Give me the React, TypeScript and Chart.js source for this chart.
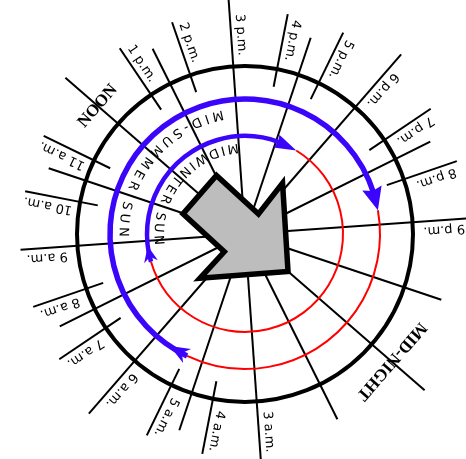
import React, { useEffect, useRef } from 'react';
import { Chart, registerables } from 'chart.js';

Chart.register(...registerables);

const CANVAS_W = 466;
const CANVAS_H = 459;

// ---------------- data ----------------
const LONG_LINE_HOURS = [12, 15, 18, 21, 24, 3, 6, 9];
const HALF_LINE_HOURS = [13.5, 16.5, 19.5, 22.5, 1.5, 4.5, 7.5, 10.5];
const TICK_HOURS = [13, 14, 16, 17, 19, 20, 4, 5, 7, 8, 10, 11];
const PM_HOURS = [13, 14, 15, 16, 17, 18, 19, 20, 21];
const PM_LABELS = ['1 p.m.', '2 p.m.', '3 p.m.', '4 p.m.', '5 p.m.', '6 p.m.', '7 p.m.', '8 p.m.', '9 p.m.'];
const AM_HOURS = [3, 4, 5, 6, 7, 8, 9, 10, 11];
const AM_LABELS = ['3 a.m.', '4 a.m.', '5 a.m.', '6 a.m.', '7 a.m.', '8 a.m.', '9 a.m.', '10 a.m.', '11 a.m.'];
const MAIN_HOURS = [12, 24];
const MAIN_LABELS = ['NOON', 'MID-NIGHT'];
const SUN_NAMES = ['MID-SUMMER SUN', 'MIDWINTER SUN'];
const SUNRISE_HOURS = [4.96, 8.17];
const SUNSET_HOURS = [20.59, 17.37];
const SUN_TEXT_FROM_HOURS = [14.41, 14.73];
const SUN_TEXT_TO_HOURS = [9.33, 9.0];
const GNOMON_HOUR = 24;

// ---------------- geometry / style ----------------
const DIAL = { noonDeg: 139, degPerHour: 15, xMin: -245, xMax: 221, yMin: -225, yMax: 234 };
const RAD = {
  dial: 168,
  long: 238,
  longShort: 225,
  half: 207,
  tickIn: 150,
  tickOut: 224,
  label: 199,
  labelGap: 9.5,
  cardinal: [195, 194],
  sun: [135, 98],
  sunText: [122, 87],
};
const SHORTER_LONG_HOURS = [9];
const BLUE = '#3a05fa';
const RED = '#ff0000';
const SUN_WIDTH = [5.5, 4.5];
const LABEL_FONT = '13px "DejaVu Sans", sans-serif';
const SUN_FONT = '13px "DejaVu Sans", sans-serif';
const CARDINAL_FONT = 'bold 17px "Liberation Serif", "Times New Roman", serif';
const END_HEAD = [
  { len: 23, half: 10, notch: 3 },
  { len: 22, half: 7, notch: 2 },
];
const START_HEAD = [
  { len: 20, half: 8, notch: 6 },
  { len: 16, half: 7, notch: 5 },
];
// gnomon outline in (along, across) units relative to the dial centre
const GNOMON_SHAPE: [number, number][] = [
  [-60, 25.5], [-60, -25.5], [-3, -24], [-5, -63], [57, 0], [-5, 63], [-4, 27],
];

const hourToDeg = (h: number) => DIAL.noonDeg - DIAL.degPerHour * (h - 12);
const polar = (r: number, deg: number) => {
  const a = (deg * Math.PI) / 180;
  return { x: r * Math.cos(a), y: r * Math.sin(a) };
};

function lineDataset(h: number, r0: number, r1: number) {
  const d = hourToDeg(h);
  return {
    data: [polar(r0, d), polar(r1, d)],
    showLine: true,
    borderColor: '#000',
    borderWidth: 2,
    pointRadius: 0,
    borderCapStyle: 'butt' as const,
  };
}

const dialPlugin = {
  id: 'dialPlugin',
  afterDatasetsDraw(chart: any) {
    const ctx: CanvasRenderingContext2D = chart.ctx;
    const xs = chart.scales.x;
    const ys = chart.scales.y;
    const P = (r: number, deg: number): [number, number] => {
      const p = polar(r, deg);
      return [xs.getPixelForValue(p.x), ys.getPixelForValue(p.y)];
    };
    const [cx, cy] = P(0, 0);
    const k = xs.getPixelForValue(1) - xs.getPixelForValue(0);
    const rad = (deg: number) => (deg * Math.PI) / 180;

    ctx.save();

    // main dial circle
    ctx.beginPath();
    ctx.arc(cx, cy, RAD.dial * k, 0, Math.PI * 2);
    ctx.strokeStyle = '#000';
    ctx.lineWidth = 4;
    ctx.stroke();

    const drawHead = (r: number, tipDeg: number, len: number, half: number, notch: number) => {
      const tip = P(r, tipDeg);
      const baseDeg = tipDeg + ((len / (r * k)) * 180) / Math.PI;
      const base = P(r, baseDeg);
      let ax = tip[0] - base[0];
      let ay = tip[1] - base[1];
      const l = Math.hypot(ax, ay) || 1;
      ax /= l;
      ay /= l;
      const px = -ay;
      const py = ax;
      ctx.beginPath();
      ctx.moveTo(tip[0], tip[1]);
      ctx.lineTo(base[0] + px * half, base[1] + py * half);
      ctx.lineTo(base[0] + ax * notch, base[1] + ay * notch);
      ctx.lineTo(base[0] - px * half, base[1] - py * half);
      ctx.closePath();
      ctx.fillStyle = BLUE;
      ctx.fill();
    };

    // sun paths
    for (let i = 0; i < SUN_NAMES.length; i++) {
      const r = RAD.sun[i];
      const rise = hourToDeg(SUNRISE_HOURS[i]);
      const set = hourToDeg(SUNSET_HOURS[i]);
      // night (red)
      ctx.beginPath();
      ctx.arc(cx, cy, r * k, -rad(set), -rad(rise), false);
      ctx.strokeStyle = RED;
      ctx.lineWidth = 2;
      ctx.lineCap = 'butt';
      ctx.stroke();
      // day (blue)
      const endBase = set + ((END_HEAD[i].len / (r * k)) * 180) / Math.PI;
      ctx.beginPath();
      ctx.arc(cx, cy, r * k, -rad(rise), -rad(endBase - 2), false);
      ctx.strokeStyle = BLUE;
      ctx.lineWidth = SUN_WIDTH[i];
      ctx.stroke();
      // arrow heads
      drawHead(r, set, END_HEAD[i].len, END_HEAD[i].half, END_HEAD[i].notch);
      const startTip = rise - ((START_HEAD[i].len / (r * k)) * 180) / Math.PI;
      drawHead(r, startTip, START_HEAD[i].len, START_HEAD[i].half, START_HEAD[i].notch);
    }

    // curved sun names (tops toward centre, read anticlockwise)
    ctx.fillStyle = '#000';
    ctx.font = SUN_FONT;
    ctx.textAlign = 'center';
    ctx.textBaseline = 'middle';
    for (let i = 0; i < SUN_NAMES.length; i++) {
      const chars = SUN_NAMES[i].split('');
      const widths = chars.map((c) => ctx.measureText(c).width);
      const r = RAD.sunText[i] * k;
      const a0 = hourToDeg(SUN_TEXT_FROM_HOURS[i]);
      const a1 = hourToDeg(SUN_TEXT_TO_HOURS[i]);
      const arcLen = rad(a1 - a0) * r;
      const baseLen = widths.reduce((s, w) => s + w, 0) - widths[0] / 2 - widths[widths.length - 1] / 2;
      const spacing = (arcLen - baseLen) / (chars.length - 1);
      let s = 0;
      for (let j = 0; j < chars.length; j++) {
        if (j > 0) s += widths[j - 1] / 2 + widths[j] / 2 + spacing;
        const phi = a0 + ((s / r) * 180) / Math.PI;
        const p = P(RAD.sunText[i], phi);
        const pr = rad(phi);
        const theta = Math.atan2(-Math.cos(pr), -Math.sin(pr));
        ctx.save();
        ctx.translate(p[0], p[1]);
        ctx.rotate(theta);
        ctx.fillText(chars[j], 0, 0);
        ctx.restore();
      }
    }

    // hour labels
    ctx.font = LABEL_FONT;
    const drawLabel = (text: string, h: number, pm: boolean) => {
      const d = hourToDeg(h);
      const a = rad(d);
      const p = P(RAD.label, d);
      const side = pm ? 1 : -1;
      const gx = Math.sin(a) * RAD.labelGap * k * side;
      const gy = Math.cos(a) * RAD.labelGap * k * side;
      const theta = pm ? Math.PI - a : -a;
      ctx.save();
      ctx.translate(p[0] + gx, p[1] + gy);
      ctx.rotate(theta);
      ctx.fillText(text, 0, 0);
      ctx.restore();
    };
    PM_HOURS.forEach((h, i) => drawLabel(PM_LABELS[i], h, true));
    AM_HOURS.forEach((h, i) => drawLabel(AM_LABELS[i], h, false));

    // NOON / MID-NIGHT
    ctx.font = CARDINAL_FONT;
    MAIN_HOURS.forEach((h, i) => {
      const d = hourToDeg(h);
      const p = P(RAD.cardinal[i], d);
      ctx.save();
      ctx.translate(p[0], p[1]);
      ctx.rotate(Math.PI / 2 - rad(d));
      ctx.fillText(MAIN_LABELS[i], 0, 0);
      ctx.restore();
    });

    // gnomon arrow
    const gd = rad(hourToDeg(GNOMON_HOUR));
    const ux = Math.cos(gd);
    const uy = -Math.sin(gd);
    const vx = -uy;
    const vy = ux;
    ctx.beginPath();
    GNOMON_SHAPE.forEach(([u, v], idx) => {
      const x = cx + (u * ux + v * vx) * k;
      const y = cy + (u * uy + v * vy) * k;
      if (idx === 0) ctx.moveTo(x, y);
      else ctx.lineTo(x, y);
    });
    ctx.closePath();
    ctx.fillStyle = '#bdbdbd';
    ctx.fill();
    ctx.lineJoin = 'miter';
    ctx.miterLimit = 10;
    ctx.lineWidth = 5.5;
    ctx.strokeStyle = '#000';
    ctx.stroke();

    ctx.restore();
  },
};

export default function App() {
  const canvasRef = useRef<HTMLCanvasElement | null>(null);

  useEffect(() => {
    document.body.style.margin = '0';
    const canvas = canvasRef.current;
    if (!canvas) return;
    const datasets: any[] = [];
    LONG_LINE_HOURS.forEach((h) =>
      datasets.push(lineDataset(h, 0, SHORTER_LONG_HOURS.includes(h) ? RAD.longShort : RAD.long))
    );
    HALF_LINE_HOURS.forEach((h) => datasets.push(lineDataset(h, 0, RAD.half)));
    TICK_HOURS.forEach((h) => datasets.push(lineDataset(h, RAD.tickIn, RAD.tickOut)));

    const chart = new Chart(canvas, {
      type: 'scatter',
      data: { datasets },
      options: {
        animation: false,
        responsive: false,
        maintainAspectRatio: false,
        layout: { padding: 0 },
        plugins: { legend: { display: false }, tooltip: { enabled: false } },
        events: [],
        scales: {
          x: { type: 'linear', min: DIAL.xMin, max: DIAL.xMax, display: false },
          y: { type: 'linear', min: DIAL.yMin, max: DIAL.yMax, display: false },
        },
      },
      plugins: [dialPlugin],
    });
    return () => chart.destroy();
  }, []);

  return (
    <div style={{ position: 'fixed', left: 0, top: 0, width: CANVAS_W, height: CANVAS_H, background: '#fff' }}>
      <canvas ref={canvasRef} width={CANVAS_W} height={CANVAS_H} style={{ width: CANVAS_W, height: CANVAS_H }} />
    </div>
  );
}
